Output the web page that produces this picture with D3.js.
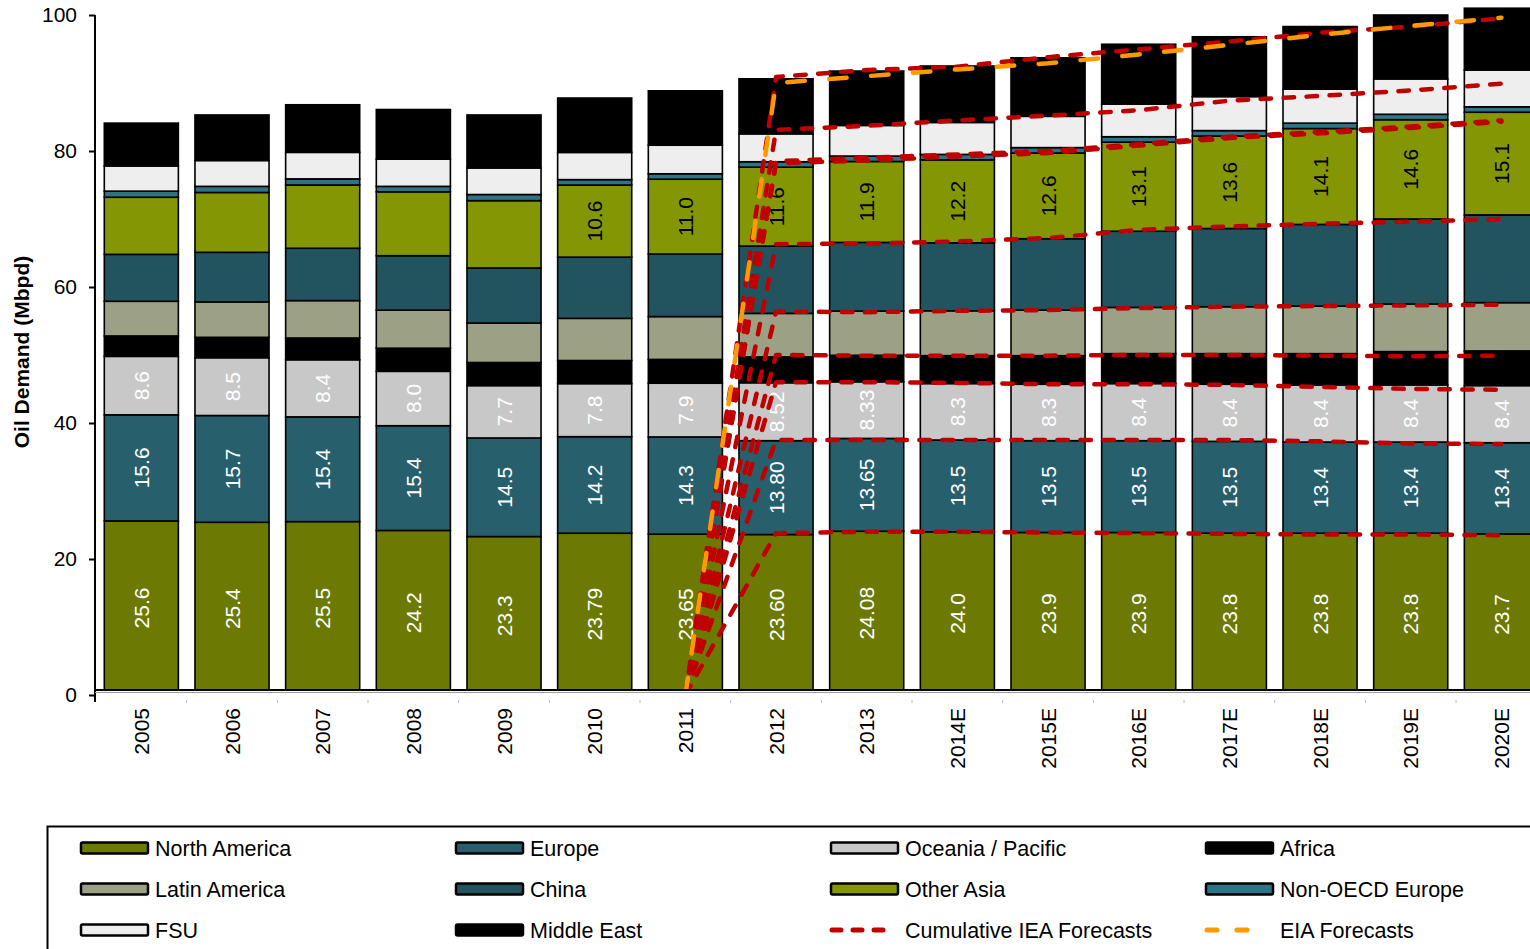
<!DOCTYPE html>
<html>
<head>
<meta charset="utf-8">
<script src="https://cdn.jsdelivr.net/npm/d3@7"></script>
<style>
  body { margin: 0; background: #fff; }
  svg { display: block; font-family: "Liberation Sans", Arial, sans-serif; }
</style>
</head>
<body>
<svg id="chart" width="1530" height="949"></svg>
<script>
// ---- Data (Mbpd) ----
const years = ["2005","2006","2007","2008","2009","2010","2011","2012","2013",
               "2014E","2015E","2016E","2017E","2018E","2019E","2020E"];

const northAmerica  = [25.6,25.4,25.5,24.2,23.3,23.79,23.65,23.60,24.08,24.0,23.9,23.9,23.8,23.8,23.8,23.7];
const europe        = [15.6,15.7,15.4,15.4,14.5,14.2,14.3,13.80,13.65,13.5,13.5,13.5,13.5,13.4,13.4,13.4];
const oceania       = [8.6,8.5,8.4,8.0,7.7,7.8,7.9,8.52,8.33,8.3,8.3,8.4,8.4,8.4,8.4,8.4];
const africa        = [3.0,3.0,3.2,3.4,3.4,3.4,3.5,3.8,3.9,4.1,4.2,4.4,4.5,4.6,4.9,5.1];
const latinAmerica  = [5.1,5.2,5.5,5.6,5.8,6.2,6.3,6.4,6.5,6.6,6.7,6.8,6.9,7.0,7.0,7.1];
const china         = [6.9,7.3,7.7,8.0,8.1,9.0,9.2,9.9,10.1,10.0,10.5,11.2,11.5,12.0,12.5,12.9];
const otherAsia     = [8.4,8.8,9.3,9.4,9.9,10.6,11.0,11.6,11.9,12.2,12.6,13.1,13.6,14.1,14.6,15.1];
const nonOecdEurope = [0.9,0.9,0.9,0.8,0.9,0.8,0.8,0.8,0.8,0.8,0.8,0.8,0.8,0.8,0.8,0.8];
const fsu           = [3.7,3.8,3.9,4.0,3.9,4.0,4.2,4.1,4.5,4.7,4.6,4.8,5.0,5.0,5.2,5.4];
const middleEast    = [6.3,6.7,7.0,7.3,7.8,8.0,8.0,8.1,8.0,8.3,8.6,8.8,8.8,9.2,9.4,9.1];

// decimals used in the value labels
const naDigits      = [1,1,1,1,1,2,2,2,2,1,1,1,1,1,1,1];
const europeDigits  = [1,1,1,1,1,1,1,2,2,1,1,1,1,1,1,1];
const oceaniaDigits = [1,1,1,1,1,1,1,2,2,1,1,1,1,1,1,1];
const otherAsiaShown = [0,0,0,0,0,1,1,1,1,1,1,1,1,1,1,1];

// cumulative IEA forecast lines (stack boundaries), 2011 onwards
const ieaNorthAmerica = [null,null,null,null,null,null,0,23.8,24.0,24.0,23.9,23.8,23.7,23.6,23.6,23.5];
const ieaEurope       = [null,null,null,null,null,null,0,37.5,37.5,37.5,37.5,37.5,37.5,37.3,37.0,36.9];
const ieaOceania      = [null,null,null,null,null,null,0,46.0,46.0,45.9,45.7,45.7,45.6,45.3,45.0,44.9];
const ieaAfrica       = [null,null,null,null,null,null,0,50.0,49.9,49.9,49.9,50.0,50.0,49.9,49.8,49.9];
const ieaLatinAmerica = [null,null,null,null,null,null,0,56.4,56.3,56.5,56.6,56.9,57.1,57.2,57.3,57.4];
const ieaChina        = [null,null,null,null,null,null,0,66.3,66.4,66.7,67.2,68.4,68.9,69.3,69.6,70.0];
const ieaOtherAsia    = [null,null,null,null,null,null,0,78.2,78.6,79.2,79.7,80.8,81.9,82.6,83.4,84.3];
const ieaNonOecd      = [null,null,null,null,null,null,0,78.5,79.0,79.5,80.0,81.0,82.1,82.8,83.6,84.5];
const ieaFsu          = [null,null,null,null,null,null,0,83.1,83.7,84.5,85.2,86.0,87.4,88.1,88.9,89.9];
const ieaMiddleEast   = [null,null,null,null,null,null,0,90.9,91.9,92.4,93.8,94.95,96.1,97.4,98.3,99.5];
const eiaTotal        = [null,null,null,null,null,null,0,90.0,91.0,92.0,92.9,94.2,95.6,97.1,98.4,99.6];

const yTicks = [0,20,40,60,80,100];

// ---- Series definitions ----
const series = [
  {key:"na",   name:"North America",      values:northAmerica,  color:"#6c7a03"},
  {key:"eu",   name:"Europe",             values:europe,        color:"#275f6d"},
  {key:"oc",   name:"Oceania / Pacific",  values:oceania,       color:"#c8c8c8"},
  {key:"af",   name:"Africa",             values:africa,        color:"#000000"},
  {key:"la",   name:"Latin America",      values:latinAmerica,  color:"#9ca186"},
  {key:"cn",   name:"China",              values:china,         color:"#22545f"},
  {key:"oa",   name:"Other Asia",         values:otherAsia,     color:"#859604"},
  {key:"noe",  name:"Non-OECD Europe",    values:nonOecdEurope, color:"#2f7387"},
  {key:"fsu",  name:"FSU",                values:fsu,           color:"#eeeeee"},
  {key:"me",   name:"Middle East",        values:middleEast,    color:"#000000"}
];

const rows = years.map((yr, i) => {
  const r = {year: yr};
  series.forEach(s => r[s.key] = s.values[i]);
  return r;
});

const stacked = d3.stack().keys(series.map(s => s.key))(rows);

// ---- Layout ----
const svg = d3.select("#chart");
const W = 1530;
const x = d3.scaleBand().domain(years).range([96, 96 + 16 * 90.67]).paddingInner(0.183).paddingOuter(0.0915);
const y = d3.scaleLinear().domain([0, 100]).range([695, 15]);
const bw = x.bandwidth();
const cx = yr => x(yr) + bw / 2;

svg.append("defs").append("clipPath").attr("id", "plotClip")
  .append("rect").attr("x", 95).attr("y", 0).attr("width", W - 95).attr("height", 689);

const plot = svg.append("g").attr("clip-path", "url(#plotClip)");

// stacked bars
stacked.forEach((layer, li) => {
  plot.append("g").selectAll("rect").data(layer).join("rect")
    .attr("x", d => x(d.data.year))
    .attr("y", d => y(d[1]))
    .attr("width", bw)
    .attr("height", d => y(d[0]) - y(d[1]))
    .attr("fill", series[li].color)
    .attr("stroke", "#000")
    .attr("stroke-width", 1.6);
});

// value labels inside segments
function addLabels(layerIdx, digits, shown, color) {
  const layer = stacked[layerIdx];
  const vals = series[layerIdx].values;
  plot.append("g").selectAll("text").data(layer.filter((d, i) => shown[i])).join("text")
    .attr("transform", d => `translate(${cx(d.data.year)},${y((d[0] + d[1]) / 2)}) rotate(-90)`)
    .attr("text-anchor", "middle")
    .attr("dy", "0.36em")
    .attr("font-size", 21)
    .attr("fill", color)
    .text(d => {
      const i = years.indexOf(d.data.year);
      return vals[i].toFixed(digits[i]);
    });
}
const allShown = years.map(() => 1);
addLabels(0, naDigits, allShown, "#fff");
addLabels(1, europeDigits, allShown, "#fff");
addLabels(2, oceaniaDigits, allShown, "#fff");
addLabels(6, years.map(() => 1), otherAsiaShown, "#000");

// forecast lines
const line = d3.line()
  .defined(d => d.v != null)
  .x(d => cx(d.year))
  .y(d => y(d.v));
const asPoints = arr => years.map((yr, i) => ({year: yr, v: arr[i]}));

const ieaLines = [ieaNorthAmerica, ieaEurope, ieaOceania, ieaAfrica, ieaLatinAmerica,
                  ieaChina, ieaOtherAsia, ieaNonOecd, ieaFsu, ieaMiddleEast];
ieaLines.forEach(arr => {
  plot.append("path").datum(asPoints(arr))
    .attr("d", line)
    .attr("fill", "none")
    .attr("stroke", "#c00000")
    .attr("stroke-width", 4.5)
    .attr("stroke-dasharray", "10.5,12.5")
    .attr("stroke-linecap", "round")
    .attr("stroke-linejoin", "round");
});
plot.append("path").datum(asPoints(eiaTotal))
  .attr("d", line)
  .attr("fill", "none")
  .attr("stroke", "#ff9900")
  .attr("stroke-width", 4.5)
  .attr("stroke-dasharray", "17.5,24.5")
  .attr("stroke-linecap", "round")
  .attr("stroke-linejoin", "round");

// ---- Axes ----
const yAxis = svg.append("g").attr("transform", "translate(95,0)")
  .call(d3.axisLeft(y).tickValues(yTicks).tickSize(6).tickSizeOuter(0).tickPadding(12).tickFormat(d3.format("d")));
yAxis.select(".domain").remove();
yAxis.selectAll(".tick line").attr("stroke", "#000").attr("stroke-width", 2);
yAxis.selectAll(".tick text").attr("font-size", 21).attr("fill", "#000")
  .attr("font-family", "\"Liberation Sans\", Arial, sans-serif");
svg.append("line").attr("x1", 95).attr("x2", 95).attr("y1", y(100)).attr("y2", 702)
  .attr("stroke", "#000").attr("stroke-width", 2);

// x axis baseline
svg.append("line").attr("x1", 95).attr("x2", W).attr("y1", 690).attr("y2", 690)
  .attr("stroke", "#000").attr("stroke-width", 2);
svg.append("line").attr("x1", 95).attr("x2", W).attr("y1", 692.5).attr("y2", 692.5)
  .attr("stroke", "#9a9a9a").attr("stroke-width", 1);

// small marks between categories
const step = x.step();
svg.append("g").selectAll("line").data(years.slice(1)).join("line")
  .attr("x1", d => x(d) - (step - bw) / 2).attr("x2", d => x(d) - (step - bw) / 2)
  .attr("y1", 700).attr("y2", 703)
  .attr("stroke", "#bbb").attr("stroke-width", 1);

const xAxis = svg.append("g").attr("transform", "translate(0,690)")
  .call(d3.axisBottom(x).tickSize(0).tickSizeOuter(0));
xAxis.select(".domain").remove();
xAxis.selectAll(".tick text")
  .attr("transform", "rotate(-90)")
  .attr("text-anchor", "end")
  .attr("x", -18).attr("y", 0).attr("dy", "0.36em")
  .attr("font-size", 21).attr("fill", "#000")
  .attr("font-family", "\"Liberation Sans\", Arial, sans-serif");

// y title
svg.append("text")
  .attr("transform", "translate(29,352) rotate(-90)")
  .attr("text-anchor", "middle")
  .attr("font-size", 21).attr("font-weight", "bold")
  .text("Oil Demand (Mbpd)");

// ---- Legend ----
const legend = svg.append("g");
legend.append("rect").attr("x", 47.5).attr("y", 826.5).attr("width", 1600).attr("height", 200)
  .attr("fill", "none").attr("stroke", "#000").attr("stroke-width", 2);

const legendItems = series.map(s => ({type: "bar", name: s.name, color: s.color}))
  .concat([{type: "iea", name: "Cumulative IEA Forecasts"}, {type: "eia", name: "EIA Forecasts"}]);
const colX = [80, 455, 830, 1205];
const rowY = [848, 889, 930];

legendItems.forEach((it, i) => {
  const gx = colX[i % 4], gy = rowY[Math.floor(i / 4)];
  const g = legend.append("g").attr("transform", `translate(${gx},${gy})`);
  if (it.type === "bar") {
    g.append("rect").attr("x", 1).attr("y", -5.5).attr("width", 67).attr("height", 11).attr("rx", 1.5)
      .attr("fill", it.color).attr("stroke", "#000").attr("stroke-width", 2.5);
  } else if (it.type === "iea") {
    g.append("line").attr("x1", 2).attr("x2", 62).attr("y1", 0).attr("y2", 0)
      .attr("stroke", "#c00000").attr("stroke-width", 5).attr("stroke-linecap", "round")
      .attr("stroke-dasharray", "9,12");
  } else {
    g.append("line").attr("x1", 2).attr("x2", 62).attr("y1", 0).attr("y2", 0)
      .attr("stroke", "#ff9900").attr("stroke-width", 5).attr("stroke-linecap", "round")
      .attr("stroke-dasharray", "10,20");
  }
  g.append("text").attr("x", 75).attr("y", 0).attr("dy", "0.36em")
    .attr("font-size", 21.5).attr("fill", "#000").text(it.name);
});
</script>
</body>
</html>
